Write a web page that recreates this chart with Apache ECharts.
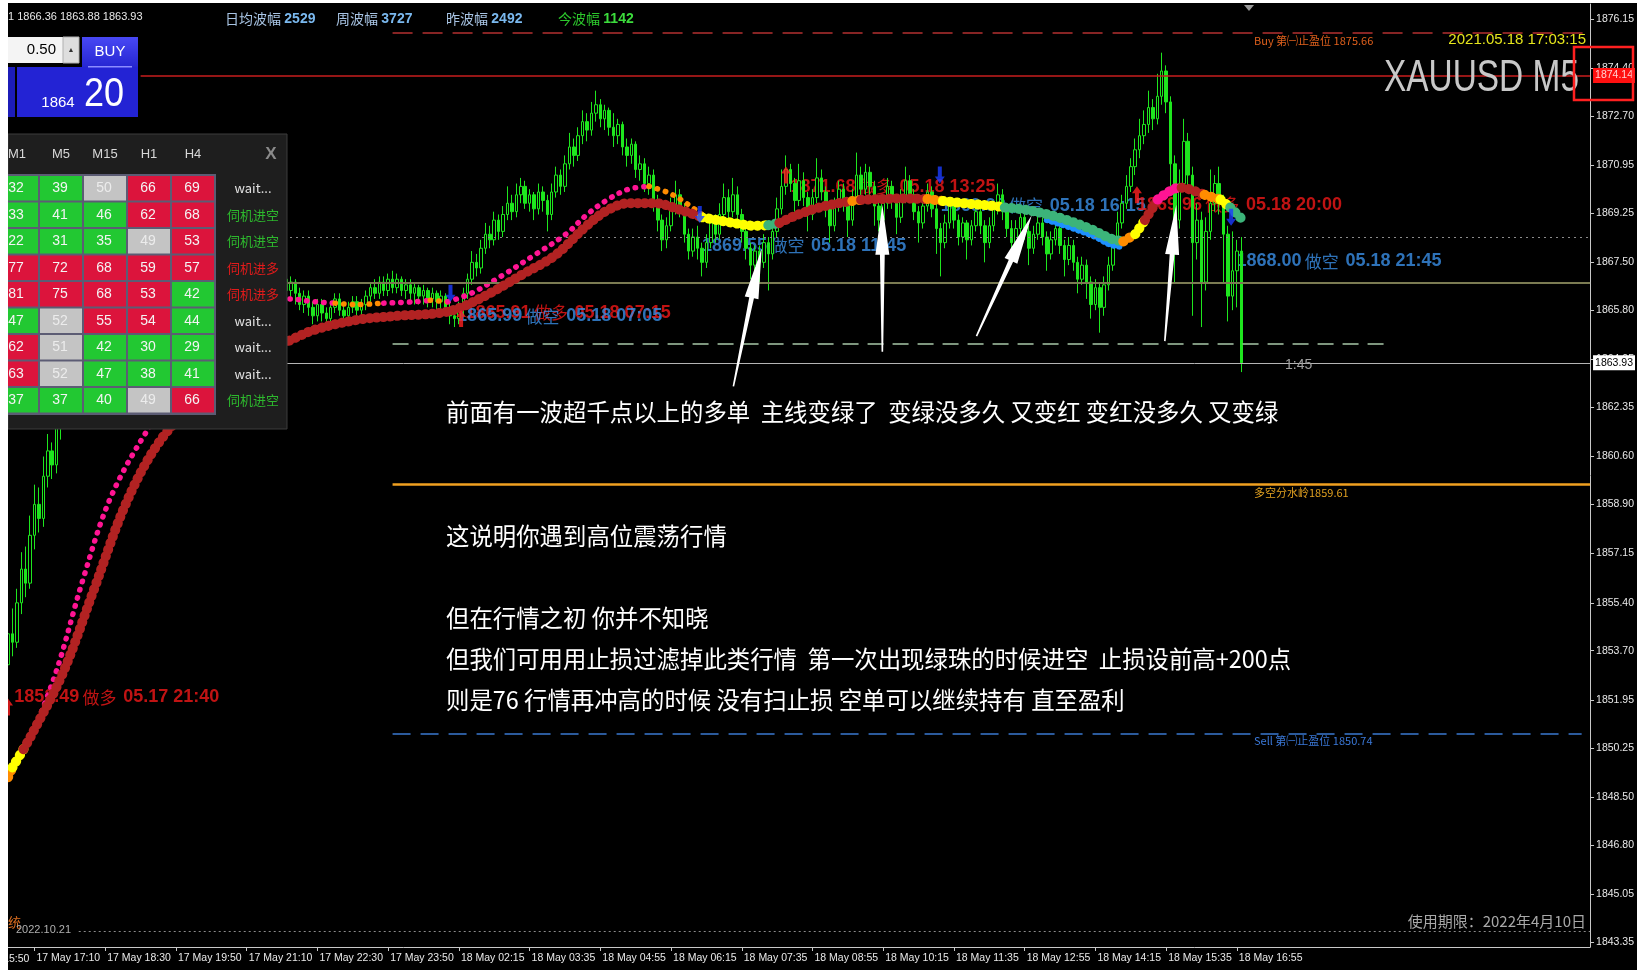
<!DOCTYPE html>
<html>
<head>
<meta charset="utf-8">
<title>XAUUSD M5</title>
<script src="https://cdn.jsdelivr.net/npm/echarts@6.0.0/dist/echarts.min.js"></script>
<style>
  html, body { margin: 0; padding: 0; background: #fff; }
  #chart { position: absolute; left: 8px; top: 3px; width: 1629px; height: 967px; background: #000; }
</style>
</head>
<body>
<div id="chart"></div>
<script>
// --- 坐标轴 ---
const yTicks = [1843.35, 1845.05, 1846.80, 1848.50, 1850.25, 1851.95, 1853.70, 1855.40, 1857.15, 1858.90,
  1860.60, 1862.35, 1864.05, 1865.80, 1867.50, 1869.25, 1870.95, 1872.70, 1874.40, 1876.15];
const xTickIdx = [0, 16, 32, 48, 64, 80, 96, 112, 128, 144, 160, 176, 192, 208, 224, 240, 256, 272];
const xTickLabels = ['17 May 17:10', '17 May 18:30', '17 May 19:50', '17 May 21:10', '17 May 22:30', '17 May 23:50',
  '18 May 02:15', '18 May 03:35', '18 May 04:55', '18 May 06:15', '18 May 07:35', '18 May 08:55',
  '18 May 10:15', '18 May 11:35', '18 May 12:55', '18 May 14:15', '18 May 15:35', '18 May 16:55'];
const cutLabel = [-16, '17 May 15:50'];

// --- K线 [open, close, low, high]，第一根是 index -6 ---
const firstIdx = -6;
const ohlc = [
  [1853.2,1854.3,1852.6,1854.8],[1854.3,1854.0,1853.5,1855.2],[1854.0,1855.4,1853.8,1855.9],[1855.4,1856.6,1855.0,1857.2],
  [1856.6,1856.1,1855.6,1857.4],[1856.1,1857.8,1855.9,1858.5],[1857.8,1858.9,1857.3,1859.6],[1858.9,1858.4,1857.9,1859.5],
  [1858.4,1859.9,1858.1,1860.6],[1859.9,1860.8,1859.5,1861.4],[1860.8,1860.3,1859.8,1861.1],[1860.3,1861.6,1860.0,1862.2],
  [1861.6,1862.5,1861.2,1863.1],[1862.5,1862.0,1861.6,1863.0],
  [1862.0,1862.8,1861.7,1863.2],[1862.8,1863.4,1862.4,1863.9],[1863.4,1863.0,1862.6,1863.8],[1863.0,1863.9,1862.8,1864.3],
  [1863.9,1864.5,1863.5,1864.9],[1864.5,1864.1,1863.7,1864.8],[1864.1,1864.8,1863.9,1865.2],[1864.8,1865.4,1864.5,1865.8],
  [1865.4,1865.0,1864.7,1865.7],[1865.0,1865.6,1864.8,1866.0],[1865.6,1866.1,1865.3,1866.5],[1866.1,1865.7,1865.4,1866.3],
  [1865.7,1866.3,1865.5,1866.7],[1866.3,1866.0,1865.7,1866.6],[1866.0,1866.5,1865.8,1866.9],[1866.5,1866.9,1866.2,1867.3],
  [1866.9,1866.4,1866.1,1867.1],[1866.4,1866.1,1865.8,1866.7],[1866.1,1866.6,1865.9,1866.9],[1866.6,1867.0,1866.3,1867.4],
  [1867.0,1866.6,1866.3,1867.2],[1866.6,1866.2,1865.9,1866.8],[1866.2,1866.5,1865.9,1866.8],[1866.5,1866.0,1865.7,1866.7],
  [1866.0,1866.4,1865.8,1866.7],[1866.4,1866.8,1866.1,1867.1],[1866.8,1866.5,1866.2,1867.0],[1866.5,1866.1,1865.8,1866.7],
  [1866.1,1866.4,1865.9,1866.7],[1866.4,1866.7,1866.1,1867.0],[1866.7,1866.3,1866.0,1866.9],[1866.3,1866.6,1866.0,1866.9],
  [1866.6,1866.2,1865.9,1866.8],[1866.2,1866.5,1866.0,1866.8],[1866.5,1866.8,1866.2,1867.1],[1866.8,1866.4,1866.1,1867.0],
  [1866.4,1866.1,1865.8,1866.6],[1866.1,1866.4,1865.9,1866.7],[1866.4,1866.7,1866.2,1867.0],[1866.7,1866.3,1866.0,1866.9],
  [1866.3,1866.6,1866.1,1866.8],[1866.6,1866.2,1865.9,1866.8],[1866.2,1866.5,1866.0,1866.7],[1866.5,1866.8,1866.3,1867.1],
  [1866.8,1866.4,1866.1,1867.0],[1866.4,1866.7,1866.2,1867.0],[1866.7,1866.3,1866.0,1866.9],[1866.3,1866.6,1866.0,1866.9],
  [1866.6,1866.9,1866.3,1867.2],[1866.9,1866.5,1866.2,1867.1],
  [1866.5,1866.8,1866.2,1867.0],[1866.8,1866.4,1866.0,1866.9],[1866.4,1866.0,1865.8,1866.6],[1866.0,1866.3,1865.7,1866.5],
  [1866.3,1865.9,1865.6,1866.5],[1865.9,1865.6,1865.3,1866.1],[1865.6,1866.0,1865.4,1866.2],[1866.0,1865.7,1865.4,1866.2],
  [1865.7,1865.5,1865.2,1865.9],[1865.5,1865.9,1865.3,1866.1],[1865.9,1866.2,1865.7,1866.4],[1866.2,1865.8,1865.6,1866.4],
  [1865.8,1865.6,1865.3,1866.0],[1865.6,1865.9,1865.4,1866.1],[1865.9,1866.1,1865.7,1866.3],[1866.1,1865.8,1865.6,1866.3],
  [1865.8,1866.0,1865.5,1866.2],[1866.0,1866.3,1865.8,1866.5],[1866.3,1866.6,1866.1,1866.8],[1866.6,1866.4,1866.2,1866.9],
  [1866.4,1866.8,1866.2,1867.0],[1866.8,1866.5,1866.3,1867.0],[1866.5,1866.9,1866.3,1867.1],[1866.9,1866.6,1866.4,1867.2],
  [1866.6,1866.9,1866.4,1867.1],[1866.9,1866.5,1866.3,1867.0],[1866.5,1866.7,1866.2,1866.9],[1866.7,1866.4,1866.1,1866.9],
  [1866.4,1866.6,1866.0,1866.8],[1866.6,1866.3,1866.0,1866.7],[1866.3,1866.5,1866.0,1866.7],[1866.5,1866.2,1865.9,1866.6],
  [1866.2,1866.4,1865.9,1866.6],[1866.4,1866.1,1865.8,1866.5],[1866.1,1866.3,1865.8,1866.5],[1866.3,1865.9,1865.6,1866.4],
  [1865.9,1865.6,1865.3,1866.1],[1865.6,1865.5,1865.2,1865.9],[1865.5,1865.9,1865.3,1866.1],
  [1865.9,1866.4,1865.6,1866.6],[1866.4,1866.9,1866.2,1867.1],[1866.9,1867.5,1866.7,1867.9],[1867.5,1867.3,1867.0,1867.8],
  [1867.3,1868.0,1867.1,1868.3],[1868.0,1868.5,1867.8,1868.9],[1868.5,1868.3,1868.0,1868.8],[1868.3,1869.0,1868.1,1869.3],
  [1869.0,1868.6,1868.3,1869.2],[1868.6,1869.2,1868.4,1869.5],[1869.2,1869.6,1869.0,1870.2],[1869.6,1869.3,1869.0,1869.9],
  [1869.3,1869.9,1869.1,1870.3],[1869.9,1870.2,1869.6,1870.5],[1870.2,1869.6,1869.4,1870.4],[1869.6,1869.9,1869.3,1870.1],
  [1869.9,1869.4,1869.0,1870.0],[1869.4,1870.0,1869.2,1870.3],[1870.0,1869.7,1869.3,1870.2],[1869.7,1869.2,1868.6,1869.9],
  [1869.2,1870.0,1869.0,1870.3],[1870.0,1870.6,1869.8,1870.9],[1870.6,1870.2,1869.9,1870.8],[1870.2,1871.0,1870.0,1871.3],
  [1871.0,1871.6,1870.8,1872.1],[1871.6,1871.3,1870.9,1871.9],[1871.3,1872.0,1871.1,1872.3],[1872.0,1872.5,1871.7,1872.9],
  [1872.5,1872.2,1871.8,1872.8],[1872.2,1872.8,1872.0,1873.2],[1872.8,1873.1,1872.5,1873.6],
  [1873.1,1872.6,1872.3,1873.3],[1872.6,1872.9,1872.2,1873.1],[1872.9,1872.3,1872.0,1873.0],[1872.3,1872.0,1871.6,1872.8],
  [1872.0,1872.4,1871.7,1872.6],[1872.4,1871.6,1871.3,1872.5],[1871.6,1871.3,1870.9,1871.9],[1871.3,1871.7,1871.0,1871.9],
  [1871.7,1870.8,1870.5,1871.8],[1870.8,1871.0,1870.4,1871.3],[1871.0,1870.3,1870.0,1871.2],[1870.3,1870.6,1869.9,1870.9],
  [1870.6,1869.6,1869.3,1870.8],[1869.6,1869.0,1868.6,1869.9],[1869.0,1868.3,1867.9,1869.2],[1868.3,1868.8,1868.0,1869.1],
  [1868.8,1869.5,1868.6,1869.8],[1869.5,1869.9,1869.2,1870.4],[1869.9,1869.4,1869.1,1870.1],[1869.4,1868.5,1868.2,1869.6],
  [1868.5,1867.9,1867.6,1868.7],[1867.9,1868.4,1867.7,1868.7],[1868.4,1868.0,1867.6,1868.8],[1868.0,1867.5,1867.0,1868.2],
  [1867.5,1868.2,1867.3,1868.5],[1868.2,1868.9,1868.0,1869.1],[1868.9,1868.5,1868.2,1869.2],[1868.5,1869.2,1868.3,1869.6],
  [1869.2,1869.8,1869.0,1870.3],[1869.8,1869.3,1869.0,1870.1],[1869.3,1869.9,1869.1,1870.5],[1869.9,1869.2,1868.9,1870.2],
  [1869.2,1868.6,1868.2,1869.4],[1868.6,1868.0,1867.6,1868.8],[1868.0,1867.4,1866.9,1868.2],[1867.4,1867.9,1867.1,1868.1],
  [1867.9,1867.5,1866.8,1868.1],[1867.5,1868.2,1867.3,1868.5],[1868.2,1867.8,1866.5,1868.4],[1867.8,1868.6,1867.6,1868.9],
  [1868.6,1869.4,1868.4,1869.8],[1869.4,1870.2,1869.2,1870.8],[1870.2,1870.8,1869.9,1871.3],[1870.8,1870.3,1870.0,1871.0],
  [1870.3,1869.7,1869.3,1870.5],[1869.7,1870.4,1869.5,1871.0],[1870.4,1869.8,1869.5,1870.7],[1869.8,1869.2,1868.6,1870.0],
  [1869.2,1869.8,1869.0,1870.1],[1869.8,1870.5,1869.6,1871.2],[1870.5,1870.0,1869.7,1870.8],[1870.0,1869.4,1869.1,1870.2],
  [1869.4,1868.8,1868.2,1869.6],[1868.8,1869.5,1868.6,1869.8],[1869.5,1870.1,1869.3,1870.4],[1870.1,1869.6,1869.3,1870.3],
  [1869.6,1869.0,1868.4,1869.8],[1869.0,1869.8,1868.8,1870.1],[1869.8,1870.6,1869.6,1871.4],[1870.6,1870.1,1869.8,1870.9],
  [1870.1,1870.7,1869.9,1871.0],[1870.7,1870.2,1869.9,1870.9],[1870.2,1869.5,1868.8,1870.4],[1869.5,1869.0,1868.6,1869.8],
  [1869.0,1869.6,1868.8,1869.9],[1869.6,1870.2,1869.4,1870.5],[1870.2,1869.7,1869.4,1870.4],[1869.7,1869.1,1868.5,1869.9],
  [1869.1,1869.8,1868.9,1870.1],[1869.8,1870.4,1869.6,1870.9],[1870.4,1869.9,1869.6,1870.6],[1869.9,1869.3,1869.0,1870.1],
  [1869.3,1868.9,1868.2,1869.5],[1868.9,1869.5,1868.7,1869.8],[1869.5,1870.0,1869.3,1870.3],[1870.0,1869.4,1869.1,1870.2],
  [1869.4,1868.7,1867.8,1869.6],[1868.7,1868.2,1867.0,1868.9],[1868.2,1868.9,1868.0,1869.2],[1868.9,1869.5,1868.7,1869.8],
  [1869.5,1869.0,1868.7,1869.7],[1869.0,1868.4,1868.1,1869.2],[1868.4,1868.9,1868.2,1869.1],[1868.9,1868.3,1867.6,1869.0],
  [1868.3,1868.8,1868.1,1869.0],[1868.8,1869.3,1868.6,1869.6],[1869.3,1868.8,1868.5,1869.5],[1868.8,1868.2,1867.5,1869.0],
  [1868.2,1868.8,1868.0,1869.1],[1868.8,1869.4,1868.6,1869.7],[1869.4,1869.9,1869.2,1870.3],[1869.9,1869.3,1869.0,1870.1],
  [1869.3,1868.7,1868.4,1869.5],[1868.7,1868.2,1867.6,1869.0],[1868.2,1868.7,1868.0,1869.0],[1868.7,1869.1,1868.5,1869.4],
  [1869.1,1868.6,1868.3,1869.3],[1868.6,1868.0,1867.4,1868.8],[1868.0,1868.5,1867.8,1868.8],[1868.5,1868.9,1868.3,1869.2],
  [1868.9,1868.4,1868.1,1869.1],[1868.4,1867.8,1867.2,1868.6],[1867.8,1868.3,1867.6,1868.6],[1868.3,1868.7,1868.1,1869.0],
  [1868.7,1868.1,1867.8,1868.9],[1868.1,1867.6,1867.0,1868.3],[1867.6,1868.1,1867.4,1868.4],[1868.1,1867.5,1867.2,1868.3],
  [1867.5,1866.9,1866.4,1867.7],[1866.9,1867.4,1866.7,1867.7],[1867.4,1866.8,1866.2,1867.6],[1866.8,1866.0,1865.5,1867.0],
  [1866.0,1866.6,1865.8,1866.9],[1866.6,1865.9,1865.0,1866.8],[1865.9,1866.7,1865.6,1867.0],[1866.7,1867.4,1866.5,1867.7],
  [1867.4,1868.2,1867.2,1868.5],[1868.2,1868.9,1868.0,1869.3],[1868.9,1869.6,1868.7,1869.9],[1869.6,1870.2,1869.4,1870.6],
  [1870.2,1870.9,1870.0,1871.2],[1870.9,1871.5,1870.6,1871.9],[1871.5,1872.0,1871.2,1872.6],[1872.0,1872.4,1871.7,1872.9],
  [1872.4,1873.0,1872.1,1873.6],[1873.0,1872.6,1872.2,1873.3],[1872.6,1873.4,1872.4,1874.2],[1873.4,1874.3,1873.1,1874.95],
  [1874.3,1873.2,1872.8,1874.5],[1873.2,1871.0,1870.2,1873.4],[1871.0,1869.0,1866.8,1871.3],[1869.0,1870.3,1868.7,1870.8],
  [1870.3,1871.8,1870.0,1872.6],[1871.8,1870.6,1870.2,1872.1],[1870.6,1868.2,1865.6,1870.9],[1868.2,1869.0,1867.6,1869.6],
  [1869.0,1866.8,1865.2,1869.3],[1866.8,1868.6,1866.5,1869.1],[1868.6,1869.6,1868.3,1870.8],[1869.6,1870.3,1869.3,1870.6],
  [1870.3,1869.6,1869.2,1870.9],[1869.6,1868.5,1866.8,1869.9],[1868.5,1866.3,1865.4,1868.8],[1866.3,1867.2,1865.8,1868.6],
  [1867.2,1867.9,1865.9,1868.3],[1867.9,1863.93,1863.6,1868.4]
];

// --- 均线 [index, price, 颜色状态] ---
const mainLine = [
  [-6, 1849.2, 'o'], [-5, 1849.55, 'y'], [-2.5, 1850.2, 'r'], [-0.7, 1850.7, 'r'], [6.4, 1852.9, 'r'],
  [13.5, 1855.9, 'r'], [20.6, 1858.9, 'r'], [27.7, 1861.0, 'r'], [36, 1862.5, 'r'], [46.7, 1863.95, 'r'],
  [57.4, 1864.7, 'r'], [63.3, 1865.1, 'r'], [72.8, 1865.45, 'r'], [82.2, 1865.6, 'r'], [91.7, 1865.7, 'r'],
  [96.5, 1865.9, 'r'], [103.6, 1866.45, 'r'], [110.7, 1867.1, 'r'], [117.8, 1867.75, 'r'], [124.9, 1868.8, 'r'],
  [129.7, 1869.36, 'r'], [134.4, 1869.6, 'r'], [140.3, 1869.6, 'r'], [146.2, 1869.36, 'r'], [151, 1869.1, 'y'],
  [158.1, 1868.9, 'y'], [162.8, 1868.8, 'y'], [166, 1868.82, 'g'], [168.5, 1868.9, 'r'], [172.3, 1869.17, 'r'],
  [177.1, 1869.43, 'r'], [181.8, 1869.6, 'r'], [185, 1869.68, 'o'], [187, 1869.72, 'r'], [196, 1869.77, 'r'],
  [202, 1869.75, 'o'], [205.5, 1869.68, 'y'], [210.2, 1869.6, 'y'], [217.3, 1869.5, 'y'], [219.5, 1869.45, 'g'],
  [224.5, 1869.36, 'g'], [231.6, 1869.1, 'g'], [238.7, 1868.7, 'g'], [243.4, 1868.35, 'g'], [246.3, 1868.24, 'o'],
  [249, 1868.5, 'y'], [251.2, 1869.0, 'r'], [254.1, 1869.73, 'p'], [257.6, 1870.1, 'p'], [259.5, 1870.15, 'r'],
  [261.2, 1870.1, 'r'], [264.7, 1869.9, 'o'], [268.3, 1869.73, 'y'], [270.5, 1869.45, 'g'], [273, 1869.06, null]
];
const fastLine = [
  [-0.5, 1850.7, 'p'], [5, 1853.0, 'p'], [10.9, 1856.2, 'p'], [17.1, 1859.1, 'p'], [25.4, 1861.5, 'p'],
  [35, 1863.6, 'p'], [45, 1865.3, 'p'], [57.4, 1866.2, 'p'], [63.3, 1866.1, 'p'], [68, 1866.05, 'o'],
  [72.8, 1866.0, 'o'], [79, 1866.05, 'p'], [86, 1866.1, 'p'], [89.5, 1866.15, 'o'], [93.5, 1866.1, 'p'],
  [98.8, 1866.4, 'p'], [106, 1867.05, 'p'], [113, 1867.75, 'p'], [120.2, 1868.5, 'p'], [125, 1869.2, 'p'],
  [129.7, 1869.73, 'p'], [134.4, 1870.1, 'p'], [139, 1870.2, 'o'], [143, 1870.0, 'o'], [146.2, 1869.73, 'o'],
  [151, 1869.2, null]
];
const blueLine = [[229, 1869.0, 'b'], [234, 1868.75, 'b'], [240, 1868.4, 'b'], [243.4, 1868.12, 'b'], [246, 1868.05, null]];

// --- 信号 ---
const signalTexts = [
  [-4.6, 1852.05, '1852.49', '做多', '05.17 21:40'],
  [97.5, 1865.70, '1865.91', '做多', '05.18 07:15'],
  [95.6, 1865.59, '1865.99', '做空', '05.18 07:05'],
  [151.0, 1868.09, '1869.55', '做空', '05.18 11:45'],
  [171.0, 1870.18, '1871.68', '做多', '05.18 13:25'],
  [205.0, 1869.51, '1869.92', '做空', '05.18 16:15'],
  [249.4, 1869.55, '1869.96', '做多', '05.18 20:00'],
  [271.9, 1867.53, '1868.00', '做空', '05.18 21:45']
];
const longArrows = [[-6, 1851.7], [96.5, 1865.5], [170, 1870.6], [249.4, 1869.9]];
const shortArrows = [[94.1, 1866.4], [150.5, 1869.2], [204.8, 1870.6], [270.7, 1869.1]];

// --- 水平线价位 ---
const buyTP = 1875.66, redLevel = 1874.14, dottedLevel = 1868.39, oliveLevel = 1866.78;
const dashLevel = 1864.62, bidPrice = 1863.93, pivotLevel = 1859.61, sellTP = 1850.74, bottomLevel = 1843.73;

// --- 面板数据 ---
const panelHead = ['M1', 'M5', 'M15', 'H1', 'H4'];
const panelVals = [
  [32, 39, 50, 66, 69], [33, 41, 46, 62, 68], [22, 31, 35, 49, 53],
  [77, 72, 68, 59, 57], [81, 75, 68, 53, 42], [47, 52, 55, 54, 44],
  [62, 51, 42, 30, 29], [63, 52, 47, 38, 41], [37, 37, 40, 49, 66]
];
const panelStatus = ['wait...', '伺机进空', '伺机进空', '伺机进多', '伺机进多', 'wait...', 'wait...', 'wait...', '伺机进空'];
const waveLabels = ['日均波幅', '周波幅', '昨波幅', '今波幅'];
const waveValues = [2529, 3727, 2492, 1142];

// --- 注释 ---
const notes = [
  '前面有一波超千点以上的多单  主线变绿了  变绿没多久 又变红 变红没多久 又变绿',
  '这说明你遇到高位震荡行情',
  '但在行情之初 你并不知晓',
  '但我们可用用止损过滤掉此类行情  第一次出现绿珠的时候进空  止损设前高+200点',
  '则是76 行情再冲高的时候 没有扫止损 空单可以继续持有 直至盈利'
];
const pointers = [
  [[158.1, 1863.09], [164.5, 1867.98]],
  [[191.8, 1864.32], [191.8, 1869.55]],
  [[213.1, 1864.88], [225.6, 1869.17]],
  [[255.7, 1864.7], [258.3, 1869.55]]
];

const stateColor = {r: '#b22222', o: '#ff8c00', y: '#ffff00', g: '#3cb47a', b: '#1e90ff', p: '#ff1493'};
const LAT = '"Liberation Sans", Arial, sans-serif';
const CJK = '"Noto Sans CJK SC", "Liberation Sans", sans-serif';

const candleData = ohlc.map((r, k) => [firstIdx + k, r[0], r[1], r[2], r[3]]);

function buildSegments(pts) {
  const segs = [];
  for (let k = 0; k < pts.length - 1; k++) {
    const st = pts[k][2];
    if (!segs.length || segs[segs.length - 1].st !== st) segs.push({st, data: [[pts[k][0], pts[k][1]]]});
    segs[segs.length - 1].data.push([pts[k + 1][0], pts[k + 1][1]]);
  }
  return segs;
}

function lineSeries(pts, width, dash, z) {
  return buildSegments(pts).map(s => ({
    type: 'line', z, silent: true, smooth: 0.35, showSymbol: false, animation: false,
    data: s.data,
    lineStyle: {color: stateColor[s.st], width, cap: 'round', join: 'round', type: dash}
  }));
}

function hLine(v, x0, x1, lineStyle, label) {
  return [{coord: [x0, v], lineStyle, label: label || {show: false}}, {coord: [x1, v]}];
}

const X_MAX = 351.9;
const arrowUp = 'path://M5,0 L10,7 L7,7 L7,17 L3,17 L3,7 L0,7 Z';
const axisBox = (text, color, bg) => ({
  show: true, position: 'end', distance: 3, formatter: text, color,
  backgroundColor: bg, padding: [2, 2], fontSize: 10.5, fontFamily: LAT
});

const chart = echarts.init(document.getElementById('chart'));

const option = {
  backgroundColor: '#000',
  animation: false,
  grid: {left: 0, right: 45, top: 1, bottom: 23},
  xAxis: {
    type: 'value', min: -6.0, max: X_MAX,
    splitLine: {show: false},
    axisLine: {show: true, onZero: false, lineStyle: {color: '#c8c8c8'}},
    axisTick: {show: true, length: 4, customValues: xTickIdx, lineStyle: {color: '#c8c8c8'}},
    axisLabel: {
      customValues: xTickIdx, align: 'left', margin: 6, padding: [0, 0, 0, 2],
      color: '#e8e8e8', fontSize: 10.5, fontFamily: LAT,
      formatter: v => xTickLabels[xTickIdx.indexOf(v)]
    }
  },
  yAxis: {
    type: 'value', position: 'right', min: 1843.17, max: 1876.68,
    splitLine: {show: false},
    axisLine: {show: true, onZero: false, lineStyle: {color: '#c8c8c8'}},
    axisTick: {show: true, length: 4, customValues: yTicks, lineStyle: {color: '#c8c8c8'}},
    axisLabel: {
      customValues: yTicks, margin: 6, color: '#e8e8e8', fontSize: 10.5, fontFamily: LAT,
      formatter: v => v.toFixed(2)
    }
  },
  series: [
    // 水平线
    {
      type: 'line', data: [], z: 1, clip: false, silent: true,
      markLine: {
        symbol: ['none', 'none'], silent: true, animation: false,
        data: [
          hLine(buyTP, 81, X_MAX, {color: '#b43030', type: [20, 10], width: 1.5}),
          hLine(redLevel, 24, X_MAX, {color: '#c81e1e', type: 'solid', width: 1.5},
            axisBox(redLevel.toFixed(2), '#ffd0d0', '#ff1010')),
          hLine(dottedLevel, -6, X_MAX, {color: '#8c8c8c', type: [2, 4], width: 1}),
          hLine(oliveLevel, -6, X_MAX, {color: '#7b7b52', type: 'solid', width: 2}),
          hLine(dashLevel, 81, 306, {color: '#a8c8a8', type: [16, 9], width: 1.5}),
          hLine(bidPrice, -6, X_MAX, {color: '#b4b4b4', type: 'solid', width: 1},
            axisBox(bidPrice.toFixed(2), '#000', '#fff')),
          hLine(pivotLevel, 81, X_MAX, {color: '#f0a020', type: 'solid', width: 2.5}),
          hLine(sellTP, 81, 350, {color: '#3a78d0', type: [18, 10], width: 1.5}),
          hLine(bottomLevel, 10, X_MAX, {color: '#8a8a8a', type: [2, 3], width: 1})
        ]
      }
    },
    // 信号文字
    {
      type: 'scatter', z: 2, silent: true, symbolSize: 0,
      data: signalTexts.map(s => ({
        value: [s[0], s[1]],
        label: {
          show: true, position: 'right', distance: 0,
          color: s[3] === '做多' ? '#f01818' : '#3a8ee6',
          formatter: `{n|${s[2]}} {c|${s[3]}}  {n|${s[4]}}`,
          rich: {
            n: {fontWeight: 'bold', fontSize: 18, fontFamily: LAT},
            c: {fontSize: 17, fontFamily: CJK}
          }
        }
      }))
    },
    // K线
    {
      type: 'candlestick', z: 3, silent: true, barWidth: 3,
      data: candleData,
      itemStyle: {color: '#000', color0: '#1ee61e', borderColor: '#1ee61e', borderColor0: '#1ee61e', borderWidth: 1}
    },
    ...lineSeries(blueLine, 6, [0.5, 5], 4),
    ...lineSeries(fastLine, 5.5, [0.5, 8], 4),
    ...lineSeries(mainLine, 10, [0.5, 6.5], 5),
    // 箭头
    {
      type: 'scatter', z: 6, silent: true, symbol: arrowUp, symbolSize: [10, 17],
      itemStyle: {color: '#ff2020'}, data: longArrows
    },
    {
      type: 'scatter', z: 6, silent: true, symbol: arrowUp, symbolSize: [10, 17], symbolRotate: 180,
      itemStyle: {color: '#1a3cff'}, data: shortArrows
    }
  ]
};

chart.setOption(option);

// --- 叠加层（面板、文字、箭头） ---
const px = (i, v) => chart.convertToPixel({gridIndex: 0}, [i, v]);
const G = [];
function txt(x, y, text, fill, font, align, extra) {
  G.push(Object.assign({
    type: 'text', x, y, z: 100, silent: true,
    style: {text, fill, font, align: align || 'left', textAlign: align || 'left',
      verticalAlign: 'middle', textVerticalAlign: 'middle'}
  }, extra || {}));
}
function rect(x, y, w, h, style, z2) {
  G.push({type: 'rect', z: 100, z2: z2 || 0, silent: true, shape: {x, y, width: w, height: h}, style});
}

// 左上角
txt(0, 14, '1 1866.36 1863.88 1863.93', '#e8e8e8', `11px ${LAT}`);
const waveX = [217, 328, 438, 550];
waveLabels.forEach((l, k) => {
  const today = k === 3;
  G.push({
    type: 'text', x: waveX[k], y: 16, z: 100, silent: true,
    style: {
      text: `{l|${l}} {n|${waveValues[k]}}`, verticalAlign: 'middle', textVerticalAlign: 'middle',
      rich: {
        l: {fill: today ? '#2cc82c' : '#a8c4e4', font: `14px ${CJK}`},
        n: {fill: today ? '#3cdc3c' : '#7ab8ee', font: `bold 14px ${LAT}`}
      }
    }
  });
});

// 下单小部件
rect(0, 34, 55, 26, {fill: '#f4f4f4'});
txt(48, 47, '0.50', '#000', `15px ${LAT}`, 'right');
rect(55, 34, 16, 26, {fill: '#dedede', stroke: '#b0b0b0', lineWidth: 1});
txt(63, 47, '▲', '#333', `7px ${LAT}`, 'center');
G.push({type: 'rect', z: 100, silent: true, shape: {x: 74, y: 34, width: 56, height: 30},
  style: {fill: new echarts.graphic.LinearGradient(0, 0, 0, 1, [{offset: 0, color: '#4848f4'}, {offset: 1, color: '#2626d2'}])}});
txt(102, 49, 'BUY', '#fff', `15px ${LAT}`, 'center');
rect(0, 64, 7, 50, {fill: '#1c1cb8'});
rect(9, 64, 121, 50, {fill: '#2323d4'});
rect(80, 63, 44, 1.5, {fill: '#8c8cff'}, 1);
txt(50, 100, '1864', '#fff', `15px ${LAT}`, 'center');
txt(96, 92, '20', '#fff', `40px ${LAT}`, 'center', {scaleX: 0.9});

// 指标面板
rect(0, 131, 279, 295, {fill: '#1e1e1e', stroke: '#3c3c3c', lineWidth: 1});
const colX = [-12, 32, 76, 120, 164];
rect(-12, 171, 220, 241, {fill: '#5c5c74'}, 1);
panelHead.forEach((h, c) => txt(colX[c] + 21, 151, h, '#d8d8d8', `13px ${LAT}`, 'center', {z2: 2}));
txt(263, 151, 'X', '#8a8a8a', `bold 17px ${LAT}`, 'center', {z2: 2});
panelVals.forEach((row, r) => {
  const y = 173 + r * 26.5;
  row.forEach((v, c) => {
    const fill = v < 48 ? '#22c832' : (v <= 52 ? '#c4c4c4' : '#dc143c');
    rect(colX[c], y, 42, 24.5, {fill}, 2);
    txt(colX[c] + 20, y + 12.5, String(v), v >= 48 && v <= 52 ? '#ececec' : '#f4f4f4', `14px ${LAT}`, 'center', {z2: 3});
  });
  const st = panelStatus[r];
  const col = st === 'wait...' ? '#e0e0e0' : (st === '伺机进空' ? '#2db82d' : '#e01b1b');
  txt(245, y + 12.5, st, col, `13px ${CJK}`, 'center', {z2: 3});
});

// 右上角
G.push({type: 'polygon', z: 100, silent: true, shape: {points: [[1236, 2], [1246, 2], [1241, 8]]}, style: {fill: '#9a9a9a'}});
txt(1246, px(0, buyTP)[1] + 8, 'Buy 第㈠止盈位 1875.66', '#e0601c', `11px ${CJK}`);
txt(1578, 37, '2021.05.18 17:03:15', '#e6e61c', `15px ${LAT}`, 'right');
txt(1571, 76, 'XAUUSD M5', '#c8c8c8', `44px ${LAT}`, 'right', {scaleX: 0.76});
rect(1566, 44, 59, 53, {fill: 'none', stroke: '#ff2020', lineWidth: 2.5}, 5);
txt(1246, px(0, pivotLevel)[1] + 8, '多空分水岭1859.61', '#e0a020', `11px ${CJK}`);
txt(1246, px(0, sellTP)[1] + 7, 'Sell 第㈠止盈位 1850.74', '#3a78d8', `11px ${CJK}`);
txt(1277, px(0, bidPrice)[1] + 2, '1:45', '#a0a0a0', `14px ${LAT}`);
txt(1578, 918, '使用期限：2022年4月10日', '#a8a8a8', `15px ${CJK}`, 'right');
txt(0, 919, '统', '#e07020', `13px ${CJK}`);
txt(8, 927, '2022.10.21', '#b0b0b0', `11px ${LAT}`);
txt(px(cutLabel[0], 0)[0] + 2, 956, cutLabel[1], '#e8e8e8', `10.5px ${LAT}`);

// 注释文字
const noteY = [409, 533, 615, 656, 697];
notes.forEach((n, k) => txt(438, noteY[k], n, '#ffffff', `24px ${CJK}`, 'left', {scaleX: 0.975}));

// 白色指示箭头
function arrowPoly(b, t) {
  const dx = t[0] - b[0], dy = t[1] - b[1], L = Math.hypot(dx, dy);
  const ux = dx / L, uy = dy / L, nx = -uy, ny = ux;
  const h = Math.min(50, L * 0.38);
  const hx = t[0] - ux * h, hy = t[1] - uy * h;
  return [[b[0] + nx * 0.8, b[1] + ny * 0.8], [hx + nx * 2.4, hy + ny * 2.4], [hx + nx * 7, hy + ny * 7], t,
    [hx - nx * 7, hy - ny * 7], [hx - nx * 2.4, hy - ny * 2.4], [b[0] - nx * 0.8, b[1] - ny * 0.8]];
}
pointers.forEach(p => {
  G.push({type: 'polygon', z: 110, silent: true, shape: {points: arrowPoly(px(p[0][0], p[0][1]), px(p[1][0], p[1][1]))},
    style: {fill: '#ffffff'}});
});

chart.setOption({graphic: G});
</script>
</body>
</html>
